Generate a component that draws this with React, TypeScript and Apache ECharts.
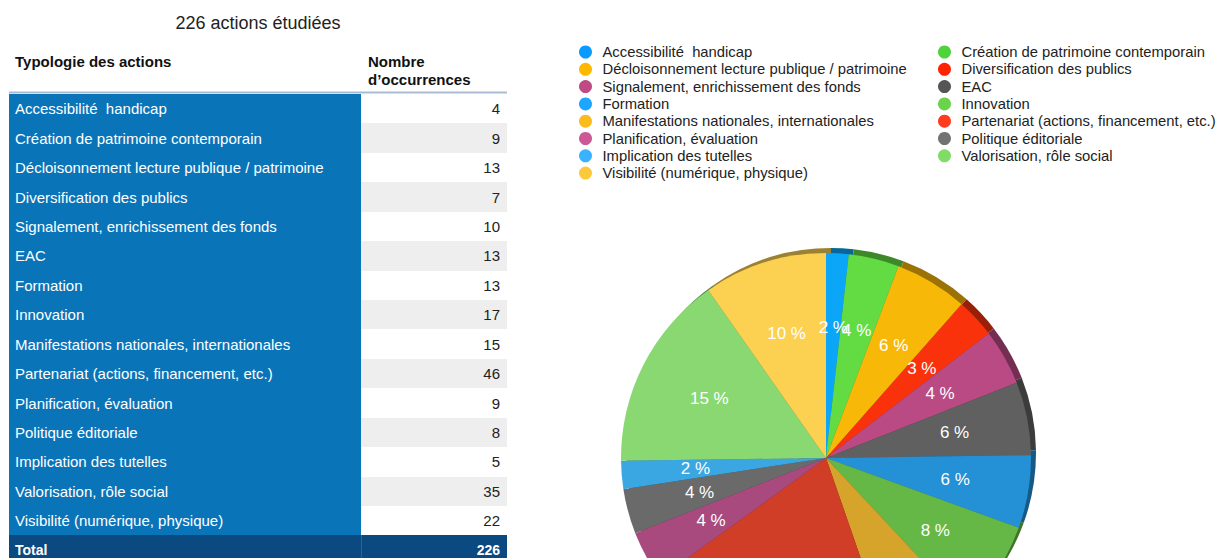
import React, { useEffect, useRef } from "react";
import * as echarts from "echarts";

const categories = [
  "Accessibilité  handicap",
  "Création de patrimoine contemporain",
  "Décloisonnement lecture publique / patrimoine",
  "Diversification des publics",
  "Signalement, enrichissement des fonds",
  "EAC",
  "Formation",
  "Innovation",
  "Manifestations nationales, internationales",
  "Partenariat (actions, financement, etc.)",
  "Planification, évaluation",
  "Politique éditoriale",
  "Implication des tutelles",
  "Valorisation, rôle social",
  "Visibilité (numérique, physique)",
];
const counts = [4, 9, 13, 7, 10, 13, 13, 17, 15, 46, 9, 8, 5, 35, 22];

const sliceColors = [
  "#0ba6f8", "#62dc42", "#f8b808", "#f9320c", "#b94a84",
  "#606060", "#2490d6", "#66b846", "#d6a42a", "#d03e28",
  "#a84a7e", "#6a6a6a", "#3aa6e2", "#8ad872", "#fcd050",
];
const legendColors = [
  "#0a9bff", "#4fd23a", "#fdb900", "#ff2300", "#c04a84",
  "#555555", "#1ea5ff", "#6bd34b", "#fbbb1d", "#ff3c1e",
  "#cc5896", "#737373", "#3ab2ff", "#80dc64", "#fcc93d",
];

const titleSuffix = " actions étudiées";
const headerCategory = "Typologie des actions";
const headerCount = ["Nombre", "d’occurrences"];
const totalLabel = "Total";

function darken(hex: string, f: number) {
  const n = parseInt(hex.slice(1), 16);
  const r = Math.round(((n >> 16) & 255) * f);
  const g = Math.round(((n >> 8) & 255) * f);
  const b = Math.round((n & 255) * f);
  return `rgb(${r},${g},${b})`;
}

export default function App() {
  const ref = useRef<HTMLDivElement>(null);

  useEffect(() => {
    const chart = echarts.init(ref.current!, null, { renderer: "svg" });
    const total = counts.reduce((a, b) => a + b, 0);
    const font = "'Liberation Sans', Arial, Helvetica, sans-serif";
    const narrow = "'Liberation Sans Narrow', 'Liberation Sans', Arial, sans-serif";
    const blue = "#0a74b8";
    const navy = "#0b4a80";
    const colSplit = 361;
    const rowH = 29.43;
    const pieCenter = [826, 458];

    const rowLabels = [...categories, totalLabel];
    const rows = rowLabels.map((name, i) => ({
      name,
      value: [i < categories.length ? counts[i] : total, i],
    }));

    const pieData = categories.map((c, i) => ({
      name: c,
      value: counts[i],
      itemStyle: { color: sliceColors[i] },
    }));
    const rimData = categories.map((c, i) => ({
      name: c,
      value: counts[i],
      itemStyle: { color: darken(sliceColors[i], 0.62) },
    }));
    // label anchor points: [radius, angle] in a polar system matching the pie
    const labelPoints = categories.map((c, i) => {
      const before = counts.slice(0, i).reduce((a, b) => a + b, 0);
      return { name: c, value: [1, before + counts[i] / 2, counts[i]] };
    });

    const legendBase = {
      orient: "vertical",
      top: 44.5,
      padding: 0,
      icon: "circle",
      itemWidth: 24,
      itemHeight: 13,
      itemGap: 2.3,
      selectedMode: false,
      textStyle: { fontSize: 14.8, lineHeight: 15, color: "#222", fontFamily: font },
    };
    const leftIdx = categories.map((_, i) => i).filter((i) => i % 2 === 0);
    const rightIdx = categories.map((_, i) => i).filter((i) => i % 2 === 1);
    const legendItem = (i: number) => ({
      name: categories[i],
      itemStyle: { color: legendColors[i] },
    });

    const option: any = {
      animation: false,
      backgroundColor: "#ffffff",
      legend: [
        { ...legendBase, left: 579, data: leftIdx.map(legendItem) },
        { ...legendBase, left: 938, data: rightIdx.map(legendItem) },
      ],
      grid: { left: 9, top: 94, width: 498, height: rowH * rowLabels.length },
      xAxis: { type: "value", min: 0, max: 1000, show: false },
      yAxis: { type: "category", data: rowLabels, inverse: true, show: false },
      polar: { center: pieCenter, radius: [0, 262] },
      angleAxis: {
        type: "value",
        min: 0,
        max: total,
        startAngle: 90,
        clockwise: true,
        show: false,
      },
      radiusAxis: { type: "value", min: 0, max: 2, show: false },
      graphic: [
        {
          type: "text",
          x: 258,
          y: 23,
          style: {
            text: `${total}${titleSuffix}`,
            font: `18px ${font}`,
            fill: "#222",
            textAlign: "center",
            textVerticalAlign: "middle",
          },
        },
        {
          type: "text",
          x: 15,
          y: 61,
          style: {
            text: headerCategory,
            font: `bold 15px ${font}`,
            fill: "#111",
            textAlign: "left",
            textVerticalAlign: "middle",
          },
        },
        ...headerCount.map((t, k) => ({
          type: "text",
          x: 368,
          y: 61 + k * 18,
          style: {
            text: t,
            font: `bold 15px ${font}`,
            fill: "#111",
            textAlign: "left",
            textVerticalAlign: "middle",
          },
        })),
        {
          type: "line",
          shape: { x1: 9, y1: 92.5, x2: 507, y2: 92.5 },
          style: { stroke: "#a9bbd2", lineWidth: 2 },
        },
      ],
      series: [
        {
          type: "custom",
          coordinateSystem: "cartesian2d",
          encode: { x: 0, y: 1 },
          silent: true,
          clip: false,
          data: rows,
          renderItem: (params: any, api: any) => {
            const idx = api.value(1);
            const cs = params.coordSys;
            const yc = api.coord([0, idx])[1];
            const hb = api.size([0, 1])[1];
            const top = Math.round(yc - hb / 2);
            const bottom = Math.round(yc + hb / 2);
            const h = bottom - top;
            const isTotal = idx === categories.length;
            const x0 = cs.x;
            const x2 = cs.x + cs.width;
            const children: any[] = [
              {
                type: "rect",
                shape: { x: x0, y: top, width: colSplit - x0, height: h + 0.5 },
                style: { fill: isTotal ? navy : blue },
              },
              {
                type: "rect",
                shape: { x: colSplit, y: top, width: x2 - colSplit, height: h + 0.5 },
                style: { fill: isTotal ? navy : idx % 2 === 1 ? "#eeeeee" : "#ffffff" },
              },
              {
                type: "text",
                style: {
                  text: rowLabels[idx],
                  x: x0 + 6,
                  y: yc,
                  font: isTotal ? `bold 14px ${narrow}` : `15px ${font}`,
                  fill: "#ffffff",
                  textAlign: "left",
                  textVerticalAlign: "middle",
                },
              },
              {
                type: "text",
                style: {
                  text: String(api.value(0)),
                  x: x2 - 7,
                  y: yc,
                  font: isTotal ? `bold 14px ${narrow}` : `15px ${font}`,
                  fill: isTotal ? "#ffffff" : "#222222",
                  textAlign: "right",
                  textVerticalAlign: "middle",
                },
              },
            ];
            if (isTotal) {
              children.push({
                type: "rect",
                shape: { x: colSplit, y: top, width: 1, height: h },
                style: { fill: "#2a6496" },
              });
            }
            return { type: "group", children };
          },
        },
        {
          type: "pie",
          center: [pieCenter[0] + 5, pieCenter[1] - 5],
          radius: 205,
          startAngle: 90,
          clockwise: true,
          silent: true,
          z: 1,
          label: { show: false },
          labelLine: { show: false },
          data: rimData,
        },
        {
          type: "pie",
          center: pieCenter,
          radius: 205,
          startAngle: 90,
          clockwise: true,
          silent: true,
          z: 2,
          label: { show: false },
          labelLine: { show: false },
          data: pieData,
        },
        {
          type: "scatter",
          coordinateSystem: "polar",
          symbolSize: 0,
          silent: true,
          z: 3,
          itemStyle: { opacity: 1 },
          label: {
            show: true,
            position: "inside",
            color: "#ffffff",
            opacity: 1,
            fontSize: 17,
            fontFamily: font,
            formatter: (p: any) => `${Math.round((p.value[2] / total) * 100)} %`,
          },
          data: labelPoints,
        },
      ],
    };

    chart.setOption(option);
    return () => chart.dispose();
  }, []);

  return (
    <div style={{ position: "absolute", left: 0, top: 0, width: 1218, height: 558, overflow: "hidden" }}>
      <div ref={ref} style={{ width: 1218, height: 600 }} />
    </div>
  );
}
